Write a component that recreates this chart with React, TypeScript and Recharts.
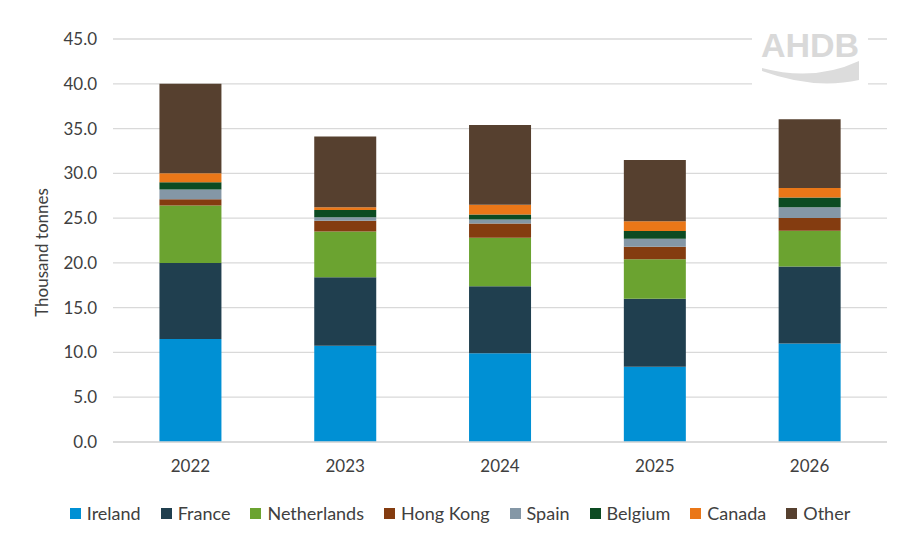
import { BarChart, Bar, XAxis, YAxis, CartesianGrid, Legend } from 'recharts'

const years = ['2022', '2023', '2024', '2025', '2026']
const ireland = [11.5, 10.75, 9.9, 8.4, 11.0]
const france = [8.5, 7.65, 7.5, 7.6, 8.6]
const netherlands = [6.4, 5.1, 5.4, 4.4, 4.0]
const hongKong = [0.7, 1.2, 1.6, 1.4, 1.4]
const spain = [1.1, 0.4, 0.45, 0.9, 1.2]
const belgium = [0.8, 0.8, 0.55, 0.85, 1.1]
const canada = [1.0, 0.3, 1.1, 1.1, 1.05]
const other = [10.0, 7.9, 8.9, 6.85, 7.7]
const yTicks = [0, 5, 10, 15, 20, 25, 30, 35, 40, 45]

const series = [
  { key: 'Ireland', values: ireland, color: '#0090d4' },
  { key: 'France', values: france, color: '#203f4f' },
  { key: 'Netherlands', values: netherlands, color: '#6ba330' },
  { key: 'Hong Kong', values: hongKong, color: '#843c10' },
  { key: 'Spain', values: spain, color: '#8497a6' },
  { key: 'Belgium', values: belgium, color: '#0c4b22' },
  { key: 'Canada', values: canada, color: '#ea7718' },
  { key: 'Other', values: other, color: '#56402f' },
]

const data = years.map((year, i) => {
  const row: Record<string, string | number> = { year }
  series.forEach((s) => {
    row[s.key] = s.values[i]
  })
  return row
})

const font = 'Lato, "Open Sans", sans-serif'

function LegendRow() {
  return (
    <div style={{ display: 'flex', justifyContent: 'center', gap: 20, fontFamily: font, fontSize: 18, color: '#404040', marginLeft: -10 }}>
      {series.map((s) => (
        <div key={s.key} style={{ display: 'flex', alignItems: 'center' }}>
          <span style={{ width: 11, height: 11, background: s.color, display: 'inline-block', marginRight: 6 }} />
          <span>{s.key}</span>
        </div>
      ))}
    </div>
  )
}

// light grey AHDB mark in the top right corner
function Logo() {
  return (
    <svg width={116} height={64} style={{ position: 'absolute', left: 752, top: 24 }}>
      <rect x={0} y={0} width={116} height={64} fill="#fff" />
      <text x={58} y={33} textAnchor="middle" fontFamily='Arial, "Liberation Sans", sans-serif' fontWeight={700} fontSize={34} fill="#d9d9d9">
        AHDB
      </text>
      <path d="M10 44 Q62 58 107 37 L107 56 Q62 66 10 47 Z" fill="#dcdcdc" />
    </svg>
  )
}

export default function App() {
  return (
    <div style={{ position: 'absolute', left: 0, top: 0, width: 921, height: 544, background: '#fff' }}>
      <BarChart width={921} height={544} data={data} margin={{ top: 39, right: 34, left: 43, bottom: 20 }} barCategoryGap="30%">
        <CartesianGrid vertical={false} stroke="#d9d9d9" strokeWidth={1.3} />
        <XAxis
          dataKey="year"
          axisLine={{ stroke: '#d9d9d9', strokeWidth: 1.3 }}
          tickLine={false}
          tickMargin={12}
          height={60}
          tick={{ fill: '#404040', fontSize: 17, fontFamily: font }}
        />
        <YAxis
          width={70}
          domain={[0, 45]}
          ticks={yTicks}
          tickFormatter={(v: number) => v.toFixed(1)}
          axisLine={false}
          tickLine={false}
          tickMargin={10}
          tick={{ fill: '#404040', fontSize: 17, fontFamily: font }}
          label={{
            value: 'Thousand tonnes',
            angle: -90,
            position: 'insideLeft',
            dx: -6,
            dy: 12,
            style: { textAnchor: 'middle', fill: '#404040', fontSize: 17, fontFamily: font },
          }}
        />
        <Legend verticalAlign="bottom" content={() => <LegendRow />} />
        {series.map((s) => (
          <Bar key={s.key} dataKey={s.key} stackId="a" fill={s.color} isAnimationActive={false} />
        ))}
      </BarChart>
      <Logo />
    </div>
  )
}
